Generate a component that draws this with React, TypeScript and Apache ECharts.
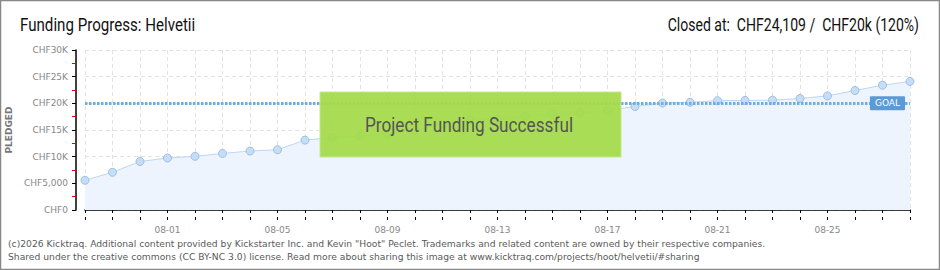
import React, { useEffect, useRef } from "react";
import * as echarts from "echarts";

// Daily campaign days (MM-DD)
const days = [
  "07-29", "07-30", "07-31",
  "08-01", "08-02", "08-03", "08-04", "08-05", "08-06", "08-07", "08-08",
  "08-09", "08-10", "08-11", "08-12", "08-13", "08-14", "08-15", "08-16",
  "08-17", "08-18", "08-19", "08-20", "08-21", "08-22", "08-23", "08-24",
  "08-25", "08-26", "08-27", "08-28",
];

// Cumulative pledged amount (CHF) at the end of each day
const pledged = [
  5570, 7070, 9100, 9750, 10060, 10600, 11060, 11300,
  13100, 13600, 13900, 14250, 15000, 16000, 16900, 16950,
  17600, 18100, 18200, 18700, 19400, 20050, 20200, 20500,
  20550, 20600, 20900, 21400, 22400, 23400, 24109,
];

const goal = 20000;

// Y axis tick labels, one per 5,000 step
const yTickLabels = ["CHF0", "CHF5,000", "CHF10K", "CHF15K", "CHF20K", "CHF25K", "CHF30K"];

const titleText = "Funding Progress: Helvetii";
const statusText = "Closed at:  CHF24,109 /  CHF20k (120%)";
const bannerText = "Project Funding Successful";
const footerLines = [
  '(c)2026 Kicktraq. Additional content provided by Kickstarter Inc. and Kevin "Hoot" Peclet. Trademarks and related content are owned by their respective companies.',
  "Shared under the creative commons (CC BY-NC 3.0) license. Read more about sharing this image at www.kicktraq.com/projects/hoot/helvetii/#sharing",
];

const headFont = "Roboto, 'DejaVu Sans', sans-serif";
const smallFont = "'DejaVu Sans', sans-serif";

export default function App() {
  const ref = useRef<HTMLDivElement>(null);

  useEffect(() => {
    if (!ref.current) return;
    const chart = echarts.init(ref.current, undefined, { renderer: "svg" });

    chart.setOption({
      animation: false,
      backgroundColor: "#ffffff",
      grid: { left: 85, right: 30, top: 50, bottom: 60, containLabel: false, outerBoundsMode: "none" },
      xAxis: [
        {
          type: "category",
          data: days,
          boundaryGap: false,
          offset: 10,
          axisLine: { show: true, lineStyle: { color: "#000", width: 1.5 } },
          axisTick: { show: true, interval: 0, length: 3, lineStyle: { color: "#000", width: 1 } },
          axisLabel: {
            interval: (i: number) => i % 4 === 3,
            color: "#888",
            fontSize: 9,
            fontFamily: smallFont,
            margin: 5,
          },
          splitLine: {
            show: true,
            interval: 0,
            lineStyle: { color: "#e2e2e2", type: [4, 3], width: 1 },
          },
        },
        {
          type: "category",
          data: days,
          boundaryGap: false,
          position: "bottom",
          offset: 10,
          axisLine: { show: false },
          axisTick: { show: true, inside: true, interval: 0, length: 3, lineStyle: { color: "#000", width: 1 } },
          axisLabel: { show: false },
          splitLine: { show: false },
        },
      ],
      yAxis: {
        type: "value",
        min: 0,
        max: 30000,
        interval: 5000,
        offset: 9,
        name: "PLEDGED",
        nameLocation: "middle",
        nameRotate: 90,
        nameGap: 62,
        nameTextStyle: { color: "#777", fontSize: 9, fontFamily: smallFont, fontWeight: "bold" },
        axisLine: { show: true, lineStyle: { color: "#000", width: 1.5 } },
        axisTick: { show: true, length: 4, lineStyle: { color: "#000", width: 1 } },
        minorTick: { show: true, splitNumber: 2, length: 4, lineStyle: { color: "#e00000", width: 1 } },
        axisLabel: {
          formatter: (v: number) => yTickLabels[Math.round(v / 5000)],
          color: "#888",
          fontSize: 9,
          fontFamily: smallFont,
          margin: 8,
        },
        splitLine: { show: true, lineStyle: { color: "#e2e2e2", type: [4, 3], width: 1 } },
      },
      series: [
        {
          type: "line",
          data: pledged,
          symbol: "circle",
          symbolSize: 8,
          itemStyle: { color: "#c6ddf6", borderColor: "#9dbfe6", borderWidth: 1 },
          lineStyle: { color: "#bcd6f3", width: 1 },
          areaStyle: { color: "#edf4fd", opacity: 1 },
          markLine: {
            silent: true,
            symbol: "none",
            data: [{ yAxis: goal }],
            lineStyle: { color: "#74aae2", width: 3, type: [2.5, 1.5] },
            label: {
              show: true,
              formatter: "GOAL",
              position: "insideEnd",
              distance: 5,
              color: "#fff",
              backgroundColor: "#5b9ad6",
              padding: [3, 5, 2, 5],
              borderRadius: 1,
              fontSize: 9,
              fontFamily: smallFont,
            },
          },
        },
      ],
      graphic: [
        {
          type: "text",
          x: 20,
          y: 25,
          scaleX: 0.84,
          silent: true,
          style: {
            text: titleText,
            verticalAlign: "middle",
            fontSize: 18,
            fontFamily: headFont,
            fill: "#111",
          },
        },
        {
          type: "text",
          x: 919,
          y: 25,
          scaleX: 0.78,
          silent: true,
          style: {
            text: statusText,
            align: "right",
            verticalAlign: "middle",
            fontSize: 18,
            fontFamily: headFont,
            fill: "#111",
          },
        },
        {
          type: "text",
          left: 832,
          top: 128,
          z: 1,
          silent: true,
          style: {
            text: "K",
            fontSize: 82,
            fontStyle: "italic",
            fontFamily: "'DejaVu Sans', sans-serif",
            fill: "rgba(205,220,238,0.28)",
          },
        },
        {
          type: "rect",
          z: 100,
          shape: { x: 320, y: 92, width: 301, height: 65 },
          style: { fill: "rgba(164,218,72,0.93)", stroke: "#c4e78e", lineWidth: 1 },
        },
        {
          type: "text",
          z: 101,
          x: 469,
          y: 126,
          scaleX: 0.86,
          style: {
            text: bannerText,
            align: "center",
            verticalAlign: "middle",
            fontSize: 20,
            fontFamily: headFont,
            fill: "#555",
            textShadowColor: "#fff",
            textShadowOffsetX: 1,
            textShadowOffsetY: 1,
            textShadowBlur: 0,
          },
        },
        {
          type: "text",
          z: 100,
          x: 8,
          y: 243,
          style: {
            text: footerLines[0],
            verticalAlign: "middle",
            fontSize: 9.2,
            fontFamily: smallFont,
            fill: "#5a5a5a",
          },
        },
        {
          type: "text",
          z: 100,
          x: 8,
          y: 256,
          style: {
            text: footerLines[1],
            verticalAlign: "middle",
            fontSize: 9.2,
            fontFamily: smallFont,
            fill: "#5a5a5a",
          },
        },
        {
          type: "rect",
          z: 110,
          silent: true,
          shape: { x: 0.5, y: 0.5, width: 939, height: 269 },
          style: { fill: "none", stroke: "#888", lineWidth: 1.5 },
        },
      ],
    });

    return () => chart.dispose();
  }, []);

  return (
    <div
      ref={ref}
      style={{ position: "fixed", left: 0, top: 0, width: 940, height: 270 }}
    />
  );
}
